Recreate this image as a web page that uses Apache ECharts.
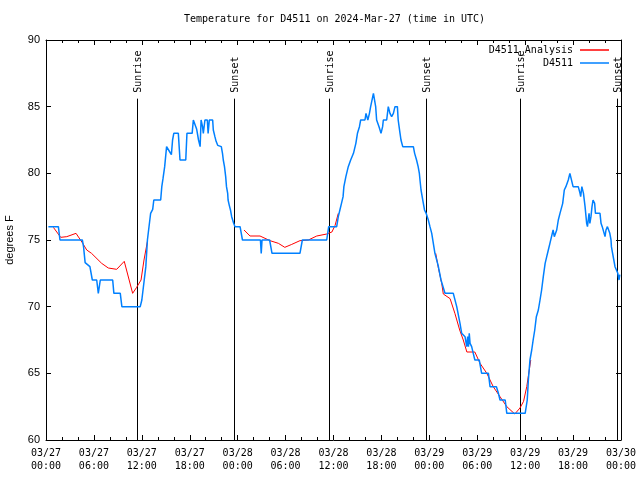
<!DOCTYPE html>
<html><head><meta charset="utf-8">
<script src="https://cdn.jsdelivr.net/npm/echarts@6/dist/echarts.min.js"></script>
<style>html,body{margin:0;padding:0;background:#fff}#c{width:640px;height:480px}</style>
</head><body><div id="c"></div>
<script>
// Hours since 2024-03-27 00:00 UTC
const obsHours = [
0.3,1.55,1.75,4.55,4.7,4.9,5.5,5.8,6.35,6.55,6.65,6.8,8.35,8.5,9.3,9.5,11.8,12.0,12.3,12.5,12.7,13.0,13.1,13.36,13.5,14.36,14.5,14.65,14.86,15.1,15.3,15.5,15.7,15.85,16.0,16.57,16.78,17.5,17.65,17.8,18.3,18.45,18.66,18.87,19.1,19.3,19.42,19.6,19.7,19.9,20.03,20.2,20.3,20.45,20.5,20.87,20.95,21.15,21.3,21.5,21.7,21.95,22.1,22.2,22.35,22.5,22.6,22.75,22.8,22.95,23.1,23.25,23.5,23.67,24.3,24.6,26.85,26.95,27.05,28.0,28.3,31.8,32.1,35.15,35.4,36.4,36.6,36.8,37.0,37.2,37.3,37.55,37.85,38.15,38.5,38.8,39.0,39.25,39.4,39.94,40.07,40.3,40.5,40.65,40.86,41.0,41.2,41.28,41.4,41.6,41.7,41.95,42.07,42.15,42.24,42.66,42.86,43.07,43.28,43.5,43.7,44.0,44.1,44.33,44.45,44.67,46.0,46.16,46.4,46.6,46.75,46.83,46.96,47.25,47.4,47.6,47.87,48.08,48.3,48.5,48.7,49.1,49.46,49.96,51.0,51.43,51.84,52.05,52.47,52.68,52.8,52.9,53.0,53.1,53.3,53.5,53.7,54.25,54.55,55.4,55.6,56.4,56.65,56.85,57.5,57.7,60.0,60.26,60.4,60.6,60.82,61.0,61.2,61.4,61.65,61.86,62.06,62.27,62.5,62.7,62.9,63.1,63.3,63.5,63.65,63.83,63.95,64.15,64.36,64.7,64.9,65.1,65.4,65.6,65.8,66.0,66.65,66.87,66.95,67.1,67.25,67.3,67.5,67.7,67.8,67.95,68.0,68.1,68.24,68.37,68.5,68.7,68.8,69.37,69.5,69.65,69.87,70.0,70.12,70.3,70.5,70.6,70.75,70.8,70.95,71.1,71.25,71.45,71.6,71.75,71.85
];
const obsTemps = [
76,76,75,75,74.5,73.3,73,72,72,71,71,72,72,71,71,70,70,70.5,72,73,75,76.5,77,77.3,78,78,79,79.6,80.5,82,82,81.6,81.4,82.5,83,83,81,81,83,83,83,84,84,83.3,82.5,82,84,83.5,83,84,84,84,83,84,84,84,83.25,82.75,82.4,82.1,82,82,81.5,81,80.5,79.75,79,78.5,78,77.6,77.25,76.75,76.25,76,76,75,75,74,75,75,74,74,75,75,76,76,76.75,77.25,77.75,78.25,79,79.75,80.5,81,81.5,82.25,83,83.5,84,84,84.5,84,84.5,85,85,86,86,85,84,84,83.5,83,83,83.5,84,84,85,84.5,84.25,84.5,85,85,84,83,82.5,82,82,81.5,81,80.5,80,79.5,78.75,77.75,77.25,77,76.5,76,75.5,74.75,74,73.1,72,71,71,70,68.75,68,67.75,67,67.75,67,68,67.25,67,66.5,66,66,65,65,64,64,63.5,63,63,62,62,63,64.5,66,66.75,67.5,68.25,69.25,69.75,70.5,71.25,72.25,73.25,73.75,74.25,74.75,75.25,75.75,75.25,75.25,75.75,76.5,77,77.75,78.75,79,79.5,80,80,79,79,78.5,78.25,79,79,78.5,77.5,76.25,76,76.75,77,76.25,76.75,77.5,78,77.75,77,77,76.25,76,76,75.25,75.75,76,76,75.5,75,74.5,74,73.5,73,73,72.5,72,72.4
];
const anaHours = [
0.92,1.84,2.6,3.76,4.6,5.1,5.7,6.97,7.8,8.85,9.8,10.85,11.35,11.9,12.27,12.7,
24.8,25.55,26.8,28.05,29.1,29.9,30.77,31.8,32.85,33.9,35.15,35.8,36.2,36.6,
48.8,49.1,49.55,49.75,50.6,50.8,51.2,51.8,52.25,52.7,53.7,54.35,55.2,56.0,56.85,57.7,58.7,59.35,59.8,60.2,60.7
];
const anaTemps = [
75.95,75.2,75.25,75.5,74.75,74.25,74.0,73.25,72.9,72.8,73.4,71.0,71.45,72.0,73.5,74.9,
75.75,75.3,75.3,74.95,74.75,74.45,74.67,74.95,75.0,75.3,75.45,75.6,76.1,77.0,
74.0,73.0,71.75,70.95,70.6,70.5,69.5,68.25,67.5,66.6,66.6,65.75,65.0,64.0,63.25,62.5,61.95,62.4,62.9,64.0,66.0
];
// Break the analysis line into its three separate runs
const anaBreaks = [16, 30];
const sunHours = [11.44, 23.6, 35.38, 47.6, 59.35, 71.55];
const sunLabels = ['Sunrise', 'Sunset', 'Sunrise', 'Sunset', 'Sunrise', 'Sunset'];
const sunLineTop = 85.6;
const xTickLabels = ['03/27\n00:00','03/27\n06:00','03/27\n12:00','03/27\n18:00',
  '03/28\n00:00','03/28\n06:00','03/28\n12:00','03/28\n18:00',
  '03/29\n00:00','03/29\n06:00','03/29\n12:00','03/29\n18:00','03/30\n00:00'];

const mono = 'DejaVu Sans Mono';
const sans = 'Liberation Sans';

const anaData = [];
anaHours.forEach((h, i) => {
  if (anaBreaks.indexOf(i) >= 0) anaData.push([null, null]);
  anaData.push([h, anaTemps[i]]);
});
const obsData = obsHours.map((h, i) => [h, obsTemps[i]]);

const axisLine = {show: true, onZero: false, lineStyle: {color: '#000', width: 1}};
const chart = echarts.init(document.getElementById('c'), null, {renderer: 'canvas'});
chart.setOption({
  animation: false,
  backgroundColor: '#fff',
  title: {
    text: 'Temperature for D4511 on 2024-Mar-27 (time in UTC)',
    left: 184, top: 14, padding: 0,
    textStyle: {fontFamily: mono, fontSize: 10, fontWeight: 'normal', color: '#000'}
  },
  legend: {
    data: ['D4511_Analysis', 'D4511'],
    orient: 'vertical', align: 'right', right: 31, top: 45, padding: 0,
    icon: 'rect', itemWidth: 29, itemHeight: 1.5, itemGap: 3,
    textStyle: {fontFamily: mono, fontSize: 10, color: '#000', padding: [0, 2, 0, 0]}
  },
  grid: {left: 46, right: 19, top: 40, bottom: 40, outerBoundsMode: 'none', containLabel: false},
  xAxis: [{
    type: 'value', min: 0, max: 72, interval: 6, position: 'bottom',
    axisLine: axisLine,
    axisTick: {inside: true, length: 5, lineStyle: {color: '#000'}},
    minorTick: {show: true, splitNumber: 3, length: 3, lineStyle: {color: '#000'}},
    splitLine: {show: false},
    axisLabel: {formatter: v => xTickLabels[Math.round(v / 6)], fontFamily: mono, fontSize: 10,
      color: '#000', lineHeight: 13, margin: 7}
  }, {
    type: 'value', min: 0, max: 72, interval: 6, position: 'top',
    axisLine: axisLine,
    axisTick: {inside: true, length: 5, lineStyle: {color: '#000'}},
    minorTick: {show: true, splitNumber: 3, length: 3, lineStyle: {color: '#000'}},
    splitLine: {show: false}, axisLabel: {show: false}
  }],
  yAxis: [{
    type: 'value', min: 60, max: 90, interval: 5, position: 'left',
    name: 'degrees F', nameLocation: 'middle', nameGap: 31, nameRotate: 90,
    nameTextStyle: {fontFamily: sans, fontSize: 11, color: '#000'},
    axisLine: axisLine,
    axisTick: {inside: true, length: 5, lineStyle: {color: '#000'}},
    splitLine: {show: false},
    axisLabel: {fontFamily: sans, fontSize: 11, color: '#000', margin: 6}
  }, {
    type: 'value', min: 60, max: 90, interval: 5, position: 'right',
    axisLine: axisLine,
    axisTick: {inside: true, length: 5, lineStyle: {color: '#000'}},
    splitLine: {show: false}, axisLabel: {show: false}
  }],
  series: [{
    type: 'custom', name: 'sun', silent: true, z: 1,
    data: sunHours.map(h => [h, sunLineTop]),
    renderItem: (params, api) => {
      const h = api.value(0);
      const b = api.coord([h, 60]);
      const t = api.coord([h, api.value(1)]);
      const x = Math.round(b[0]) + 0.5;
      return {type: 'group', children: [
        {type: 'line', shape: {x1: x, y1: b[1], x2: x, y2: t[1]}, style: {stroke: '#000', lineWidth: 1}},
        {type: 'text', x: x + 1, y: t[1] - 6, rotation: Math.PI / 2,
          style: {text: sunLabels[params.dataIndex], align: 'left', verticalAlign: 'middle',
            fontFamily: mono, fontSize: 10, fill: '#000'}}
      ]};
    }
  }, {
    name: 'D4511_Analysis', type: 'line', data: anaData, symbol: 'none', connectNulls: false,
    lineStyle: {color: '#ff0000', width: 1}, itemStyle: {color: '#ff0000'}, z: 3
  }, {
    name: 'D4511', type: 'line', data: obsData, symbol: 'none',
    lineStyle: {color: '#0080ff', width: 1.5}, itemStyle: {color: '#0080ff'}, z: 4
  }]
});
</script>
</body></html>
